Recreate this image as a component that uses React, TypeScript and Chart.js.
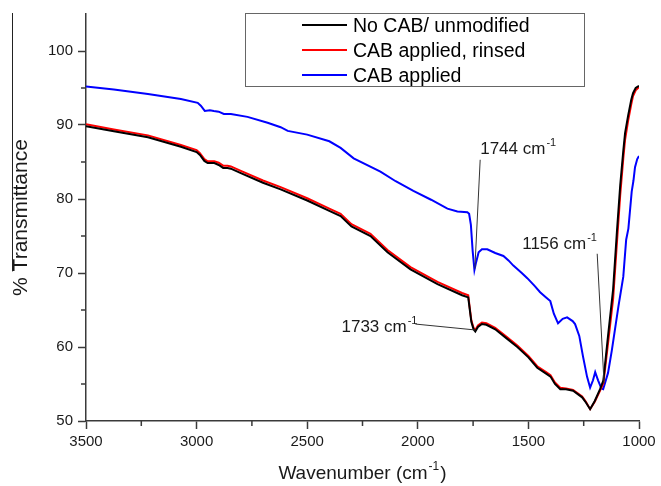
import React, { useEffect, useRef } from "react";
import { Chart, registerables } from "chart.js";

Chart.register(...registerables);

// ---------- data ----------
const seriesLabels = ["No CAB/ unmodified", "CAB applied, rinsed", "CAB applied"];
const seriesColors = ["#000000", "#ff0000", "#0000ff"];

const redX = [3500, 3374, 3220, 3071, 3000, 2985, 2965, 2950, 2920, 2900, 2880, 2860, 2845, 2800, 2700, 2620, 2500, 2400, 2349, 2300, 2214, 2137, 2033, 1911, 1800, 1772, 1766, 1758, 1748, 1740, 1728, 1710, 1690, 1650, 1600, 1550, 1500, 1460, 1420, 1400, 1380, 1356, 1330, 1298, 1257, 1240, 1221, 1200, 1176, 1161, 1140, 1117, 1100, 1085, 1071, 1063, 1049, 1035, 1027, 1015, 1000];
const redY = [90.1, 89.4, 88.6, 87.3, 86.6, 86.2, 85.4, 85.1, 85.1, 84.9, 84.5, 84.5, 84.4, 83.8, 82.5, 81.6, 80.1, 78.7, 78.0, 76.6, 75.3, 73.1, 70.8, 68.8, 67.3, 67.0, 65.5, 63.6, 62.6, 62.3, 62.9, 63.3, 63.2, 62.6, 61.4, 60.2, 58.8, 57.4, 56.6, 56.2, 55.2, 54.5, 54.4, 54.2, 53.3, 52.6, 51.6, 52.6, 54.1, 55.1, 60.5, 66.5, 74.0, 80.5, 85.5, 88.0, 90.6, 92.8, 93.9, 94.7, 95.1];

const blackX = redX;
const blackY = [89.85, 89.15, 88.35, 87.05, 86.35, 85.95, 85.15, 84.85, 84.85, 84.6, 84.2, 84.2, 84.1, 83.5, 82.2, 81.3, 79.8, 78.4, 77.7, 76.3, 75.0, 72.8, 70.5, 68.5, 67.0, 66.7, 65.3, 63.4, 62.4, 62.1, 62.7, 63.1, 63.0, 62.4, 61.2, 60.0, 58.6, 57.2, 56.4, 56.0, 55.0, 54.3, 54.3, 54.1, 53.2, 52.5, 51.6, 52.7, 54.3, 55.5, 61.5, 67.8, 75.5, 81.8, 86.5, 88.9, 91.3, 93.4, 94.3, 95.0, 95.3];

const blueX = [3500, 3374, 3220, 3071, 2995, 2981, 2963, 2940, 2922, 2900, 2877, 2845, 2770, 2679, 2620, 2588, 2500, 2400, 2349, 2290, 2169, 2100, 2020, 1940, 1866, 1821, 1776, 1768, 1760, 1752, 1744, 1736, 1725, 1710, 1686, 1650, 1613, 1590, 1568, 1530, 1505, 1470, 1447, 1420, 1401, 1385, 1366, 1345, 1325, 1300, 1289, 1270, 1253, 1235, 1221, 1208, 1198, 1185, 1170, 1162, 1140, 1123, 1093, 1071, 1058, 1048, 1033, 1025, 1018, 1008, 1000];
const blueY = [95.2, 94.8, 94.2, 93.5, 93.0, 92.6, 91.9, 92.0, 91.9, 91.8, 91.5, 91.5, 91.1, 90.3, 89.7, 89.2, 88.7, 87.8, 86.9, 85.5, 83.7, 82.4, 81.1, 79.9, 78.7, 78.3, 78.2, 78.0, 76.5, 73.0, 70.4, 71.5, 72.8, 73.2, 73.2, 72.7, 72.3, 71.7, 71.0, 70.0, 69.3, 68.2, 67.4, 66.7, 66.2, 64.5, 63.2, 63.8, 64.0, 63.5, 63.1, 61.5, 58.7, 56.0, 54.5, 55.5, 56.6, 55.5, 54.4, 54.3, 56.5, 59.5, 65.5, 69.5, 74.5, 76.0, 81.0, 82.5, 84.3, 85.4, 85.8];

const xMin = 1000;
const xMax = 3500;
const xStep = 250;
const xLabelStep = 500;
const yMin = 50;
const yMax = 105;
const yStep = 5;
const yLabelStep = 10;
const yLabelMax = 100;

// annotation texts and anchors (data coordinates)
const annotationTexts = ["1744 cm", "1733 cm", "1156 cm"];
const annotationTextAt = [[1718, 86.1], [2345, 62.0], [1528, 73.3]];
const annotationLineFrom = [[1718, 85.3], [2011, 63.1], [1189, 72.6]];
const annotationLineTo = [[1742, 70.6], [1740, 62.3], [1158, 55.1]];

const xTitle = "Wavenumber (cm";
const yTitle = "% Transmittance";

// ---------- styles ----------
const FONT = "'Liberation Sans', Arial, Helvetica, sans-serif";
const AXIS_COLOR = "#3a3a3a";
const TEXT_COLOR = "#1a1a1a";

const toPoints = (xs: number[], ys: number[]) => xs.map((x, i) => ({ x, y: ys[i] }));

const overlayPlugin = {
  id: "overlay",
  afterDraw(chart: any) {
    const { ctx, chartArea } = chart;
    const xs = chart.scales.x;
    const ys = chart.scales.y;
    ctx.save();

    // minor ticks
    ctx.strokeStyle = AXIS_COLOR;
    ctx.lineWidth = 1.5;
    ctx.beginPath();
    xs.ticks.forEach((t: any) => {
      if (t.value % xLabelStep !== 0) {
        const px = xs.getPixelForValue(t.value);
        ctx.moveTo(px, chartArea.bottom);
        ctx.lineTo(px, chartArea.bottom + 5);
      }
    });
    ys.ticks.forEach((t: any) => {
      if (t.value % yLabelStep !== 0 && t.value < yLabelMax) {
        const py = ys.getPixelForValue(t.value);
        ctx.moveTo(chartArea.left, py);
        ctx.lineTo(chartArea.left - 5, py);
      }
    });
    ctx.stroke();

    // annotations
    ctx.strokeStyle = "#333333";
    ctx.lineWidth = 1;
    annotationTexts.forEach((txt, i) => {
      const [fx, fy] = annotationLineFrom[i];
      const [tx2, ty2] = annotationLineTo[i];
      ctx.beginPath();
      ctx.moveTo(xs.getPixelForValue(fx), ys.getPixelForValue(fy));
      ctx.lineTo(xs.getPixelForValue(tx2), ys.getPixelForValue(ty2));
      ctx.stroke();
      const px = xs.getPixelForValue(annotationTextAt[i][0]);
      const py = ys.getPixelForValue(annotationTextAt[i][1]);
      ctx.fillStyle = TEXT_COLOR;
      ctx.textAlign = "left";
      ctx.textBaseline = "alphabetic";
      ctx.font = `17px ${FONT}`;
      ctx.fillText(txt, px, py);
      const w = ctx.measureText(txt).width;
      ctx.font = `11px ${FONT}`;
      ctx.fillText("-1", px + w + 1, py - 8);
    });

    // legend
    const lb = { x: 245, y: 13, w: 339, h: 73 };
    ctx.strokeStyle = "#666666";
    ctx.lineWidth = 1;
    ctx.strokeRect(lb.x + 0.5, lb.y + 0.5, lb.w, lb.h);
    chart.data.datasets.forEach((ds: any, i: number) => {
      const ry = lb.y + 12 + i * 25;
      ctx.strokeStyle = ds.borderColor;
      ctx.lineWidth = 2;
      ctx.beginPath();
      ctx.moveTo(302, ry);
      ctx.lineTo(347, ry);
      ctx.stroke();
      ctx.fillStyle = "#000000";
      ctx.font = `19.5px ${FONT}`;
      ctx.textAlign = "left";
      ctx.textBaseline = "alphabetic";
      ctx.fillText(ds.label, 353, ry + 7);
    });

    // x title
    ctx.fillStyle = TEXT_COLOR;
    ctx.font = `19px ${FONT}`;
    ctx.textBaseline = "alphabetic";
    ctx.textAlign = "left";
    const mainW = ctx.measureText(xTitle).width;
    ctx.font = `12px ${FONT}`;
    const supW = ctx.measureText("-1").width;
    ctx.font = `19px ${FONT}`;
    const closeW = ctx.measureText(")").width;
    const total = mainW + supW + closeW + 2;
    const cx = (chartArea.left + chartArea.right) / 2;
    const bx = cx - total / 2;
    const by = 479;
    ctx.fillText(xTitle, bx, by);
    ctx.font = `12px ${FONT}`;
    ctx.fillText("-1", bx + mainW + 1, by - 9);
    ctx.font = `19px ${FONT}`;
    ctx.fillText(")", bx + mainW + supW + 2, by);

    // y title
    const cy = (chartArea.top + chartArea.bottom) / 2;
    ctx.save();
    ctx.translate(27, cy);
    ctx.rotate(-Math.PI / 2);
    ctx.font = `21px ${FONT}`;
    ctx.textAlign = "center";
    ctx.fillText(yTitle, 0, 0);
    const tw = ctx.measureText(yTitle).width;
    const pw = ctx.measureText("% ").width;
    ctx.restore();
    // overline artefact running from the top to the "T"
    const tY = cy + tw / 2 - pw;
    ctx.strokeStyle = "#222222";
    ctx.lineWidth = 1;
    ctx.beginPath();
    ctx.moveTo(12.5, chartArea.top - 1);
    ctx.lineTo(12.5, tY);
    ctx.stroke();

    ctx.restore();
  },
};

export default function App() {
  const canvasRef = useRef<HTMLCanvasElement | null>(null);

  useEffect(() => {
    const canvas = canvasRef.current;
    if (!canvas) return;
    const seriesX = [blackX, redX, blueX];
    const seriesY = [blackY, redY, blueY];
    const chart = new Chart(canvas, {
      type: "line",
      data: {
        datasets: seriesLabels.map((label, i) => ({
          label,
          data: toPoints(seriesX[i], seriesY[i]),
          borderColor: seriesColors[i],
          backgroundColor: seriesColors[i],
          borderWidth: 2,
          pointRadius: 0,
          tension: 0,
          fill: false,
        })),
      },
      options: {
        animation: false,
        responsive: false,
        devicePixelRatio: 1,
        layout: { padding: { left: 0, top: 13, right: 22, bottom: 0 } },
        plugins: {
          legend: { display: false },
          tooltip: { enabled: false },
        },
        scales: {
          x: {
            type: "linear",
            reverse: true,
            min: xMin,
            max: xMax,
            border: { display: true, color: AXIS_COLOR, width: 1.5 },
            grid: {
              drawOnChartArea: false,
              drawTicks: true,
              tickLength: 8,
              tickWidth: 1.5,
              tickColor: (c: any) => (c.tick && c.tick.value % xLabelStep === 0 ? AXIS_COLOR : "rgba(0,0,0,0)"),
            },
            ticks: {
              stepSize: xStep,
              autoSkip: false,
              maxRotation: 0,
              padding: 4,
              color: TEXT_COLOR,
              font: { family: FONT, size: 15 },
              callback: (v: any) => (Number(v) % xLabelStep === 0 ? String(v) : ""),
            },
            afterFit: (s: any) => {
              s.height = 65;
            },
          },
          y: {
            type: "linear",
            min: yMin,
            max: yMax,
            border: { display: true, color: AXIS_COLOR, width: 1.5 },
            grid: {
              drawOnChartArea: false,
              drawTicks: true,
              tickLength: 8,
              tickWidth: 1.5,
              tickColor: (c: any) =>
                c.tick && c.tick.value % yLabelStep === 0 && c.tick.value <= yLabelMax ? AXIS_COLOR : "rgba(0,0,0,0)",
            },
            ticks: {
              stepSize: yStep,
              autoSkip: false,
              padding: 5,
              color: TEXT_COLOR,
              font: { family: FONT, size: 15 },
              callback: (v: any) => (Number(v) % yLabelStep === 0 && Number(v) <= yLabelMax ? String(v) : ""),
            },
            afterFit: (s: any) => {
              s.width = 86;
            },
          },
        },
      },
      plugins: [overlayPlugin],
    });
    return () => chart.destroy();
  }, []);

  return (
    <div style={{ position: "fixed", left: 0, top: 0, width: 661, height: 486, background: "#ffffff" }}>
      <canvas ref={canvasRef} width={661} height={486} style={{ display: "block" }} />
    </div>
  );
}
